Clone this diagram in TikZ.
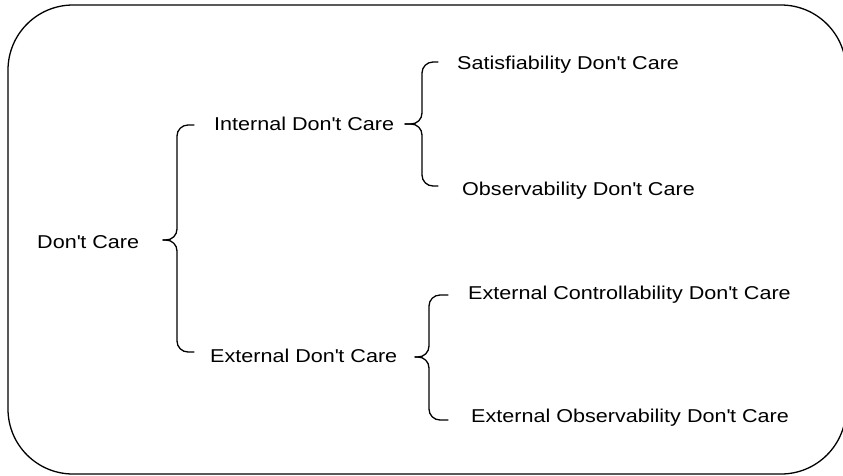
\documentclass[tikz,border=0pt]{standalone}
\usepackage{fontspec}
\setmainfont[FakeStretch=1.16]{Liberation Sans}
\usetikzlibrary{calc}

% straight apostrophe
\newcommand{\ap}{\textquotesingle}

% curly brace: #1 hook end x, #2 spine x, #3 tip x, #4 top y, #5 tip y, #6 bottom y
\newcommand{\dcbrace}[6]{%
  \draw[bracestyle] (#1,#4) -- (#2,#4) -- (#2,#5) -- (#3,#5);
  \draw[bracestyle] (#3,#5) -- (#2,#5) -- (#2,#6) -- (#1,#6);
}

\begin{document}
\begin{tikzpicture}[x=1pt,y=-1pt,
  bracestyle/.style={line width=1.3pt, rounded corners=11pt, line cap=round},
  frame/.style={line width=1.3pt, rounded corners=65pt},
  label/.style={anchor=base west, inner sep=0pt, font=\fontsize{18.6}{22}\selectfont}]
  \useasboundingbox (0,0) rectangle (843,475);
  \clip (0,0) rectangle (843,475);

  % outer frame
  \draw[frame] (8,5) rectangle (846,474);

  % labels
  \node[label] (dc)   at (37,248)  {Don\ap t Care};
  \node[label] (idc)  at (214,130) {Internal Don\ap t Care};
  \node[label] (edc)  at (210,362) {External Don\ap t Care};
  \node[label] (sdc)  at (457,69)  {Satisfiability Don\ap t Care};
  \node[label] (odc)  at (462,195) {Observability Don\ap t Care};
  \node[label] (ecdc) at (468,299) {External Controllability Don\ap t Care};
  \node[label] (eodc) at (471,422) {External Observability Don\ap t Care};

  % braces
  \dcbrace{194}{177}{163}{125}{240}{352}
  \dcbrace{438}{422}{405}{62}{124}{186}
  \dcbrace{448}{429}{415}{295}{357}{420}
\end{tikzpicture}
\end{document}
